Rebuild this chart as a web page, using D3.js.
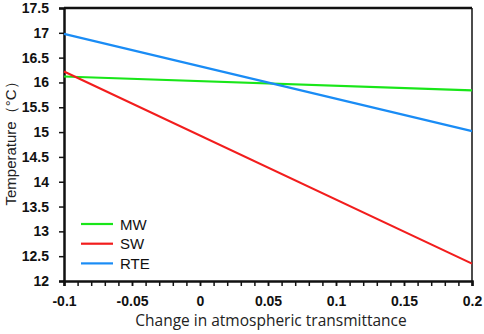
<!DOCTYPE html>
<html>
<head>
<meta charset="utf-8">
<script src="https://cdn.jsdelivr.net/npm/d3@7"></script>
<style>
  body { margin: 0; background: #fff; }
  svg { display: block; }
</style>
</head>
<body>
<svg id="chart" width="484" height="334"></svg>
<script>
// data
var xVals = [-0.1, 0.2];
var mwVals = [16.12, 15.84];
var swVals = [16.22, 12.35];
var rteVals = [16.98, 15.02];
var seriesNames = ["MW", "SW", "RTE"];
var seriesColors = ["#19e619", "#f21d1d", "#1a8cf5"];
var xTicks = [-0.1, -0.05, 0, 0.05, 0.1, 0.15, 0.2];
var yTicks = [12, 12.5, 13, 13.5, 14, 14.5, 15, 15.5, 16, 16.5, 17, 17.5];

var margin = {top: 8, right: 12, bottom: 53, left: 64},
    width = 484 - margin.left - margin.right,
    height = 334 - margin.top - margin.bottom;

var tickFont = "'Liberation Sans', Arial, sans-serif";

// plain hyphen for negatives, like the original
var fmt = function(d) { return String(+d.toFixed(2)); };

var svg = d3.select("#chart");
var g = svg.append("g")
    .attr("transform", "translate(" + margin.left + "," + margin.top + ")");

var x = d3.scaleLinear().domain([-0.1, 0.2]).range([0, width]);
var y = d3.scaleLinear().domain([12, 17.5]).range([height, 0]);

// box top/right
g.append("line").attr("x1", 0).attr("x2", width).attr("y1", 0).attr("y2", 0)
  .attr("stroke", "#111").attr("stroke-width", 2.5);
g.append("line").attr("x1", width).attr("x2", width).attr("y1", 0).attr("y2", height)
  .attr("stroke", "#111").attr("stroke-width", 1.5);

// minor x ticks every 0.01
var minor = d3.range(0, 31).map(function(i) { return -0.1 + i * 0.01; });
g.append("g")
  .attr("transform", "translate(0," + height + ")")
  .call(d3.axisBottom(x).tickValues(minor).tickSize(5).tickFormat(""))
  .call(function(a) {
    a.select(".domain").remove();
    a.selectAll("line").attr("stroke", "#111").attr("stroke-width", 1.5);
  });

var xAxis = g.append("g")
  .attr("transform", "translate(0," + height + ")")
  .call(d3.axisBottom(x).tickValues(xTicks).tickSize(5).tickPadding(10).tickFormat(fmt));
xAxis.select(".domain").attr("stroke", "#111").attr("stroke-width", 2.5);
xAxis.selectAll("line").attr("stroke", "#111").attr("stroke-width", 1.5);
xAxis.selectAll("text")
  .attr("font-family", tickFont)
  .attr("font-weight", "bold").attr("font-size", 14).attr("fill", "#111");

var yAxis = g.append("g")
  .call(d3.axisLeft(y).tickValues(yTicks).tickSize(5).tickPadding(10).tickFormat(fmt));
yAxis.select(".domain").attr("stroke", "#111").attr("stroke-width", 2.5);
yAxis.selectAll("line").attr("stroke", "#111").attr("stroke-width", 1.5);
yAxis.selectAll("text")
  .attr("font-family", tickFont)
  .attr("font-weight", "bold").attr("font-size", 14).attr("fill", "#111");

// lines
var allVals = [mwVals, swVals, rteVals];
var line = d3.line()
  .x(function(d, i) { return x(xVals[i]); })
  .y(function(d) { return y(d); });

allVals.forEach(function(vals, k) {
  g.append("path")
    .datum(vals)
    .attr("fill", "none")
    .attr("stroke", seriesColors[k])
    .attr("stroke-width", 2.2)
    .attr("d", line);
});

// legend
var legend = svg.append("g").attr("transform", "translate(81,224)");
seriesNames.forEach(function(name, k) {
  var row = legend.append("g").attr("transform", "translate(0," + (k * 19.7) + ")");
  row.append("line").attr("x1", 0).attr("x2", 32).attr("y1", 0).attr("y2", 0)
    .attr("stroke", seriesColors[k]).attr("stroke-width", 2.2);
  row.append("text").attr("x", 39).attr("y", 5.5)
    .attr("font-family", tickFont)
    .attr("font-size", 15).attr("fill", "#111").text(name);
});

// axis titles
svg.append("text")
  .attr("x", 271).attr("y", 326)
  .attr("text-anchor", "middle")
  .attr("font-family", "'Open Sans', sans-serif").attr("font-size", 15.5)
  .attr("fill", "#222")
  .text("Change in atmospheric transmittance");

svg.append("text")
  .attr("transform", "translate(16,140) rotate(-90)")
  .attr("text-anchor", "middle")
  .attr("font-family", tickFont).attr("font-size", 15)
  .attr("fill", "#222")
  .text("Temperature（°C）");
</script>
</body>
</html>
